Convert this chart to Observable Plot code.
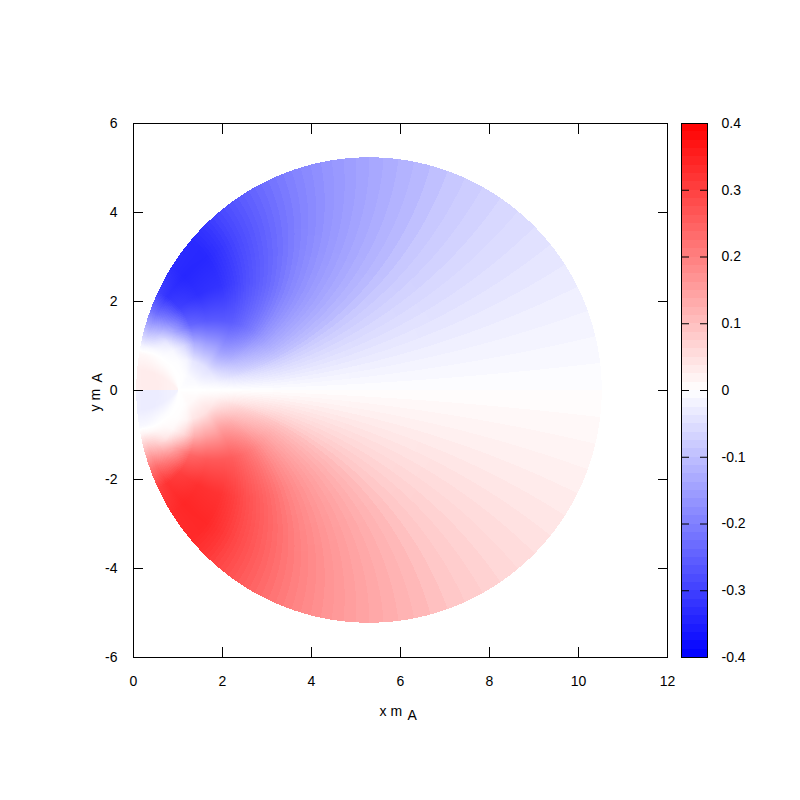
<!DOCTYPE html>
<html><head><meta charset="utf-8">
<script src="https://cdn.jsdelivr.net/npm/d3@7"></script>
<script src="https://cdn.jsdelivr.net/npm/@observablehq/plot@0.6"></script>
<style>
html,body{margin:0;padding:0;background:#fff}
#wrap{position:relative;width:800px;height:800px}
#wrap svg{position:absolute;top:0;background:transparent}
</style></head><body><div id="wrap"></div>
<script>
const xTicks=[0,2,4,6,8,10,12];
const yTicks=[-6,-4,-2,0,2,4,6];
const barTicks=[-0.4,-0.3,-0.2,-0.1,0,0.1,0.2,0.3,0.4];
const disc={cx:5.28,cy:0,r:5.23};
const focus=1.0;
const rayStep=0.67;
// rim angle of each ray (degrees) and position along it (0 at the focus, 1 at the rim)
const rayAngles=[0,7,13,20,26,32,39,45,51,56,61,66,71,76,80,90,100,110,120,130,135,140,148,155,160,165,169,171,175,178,180];
const rayStops=[0,.2,.35,.5,.65,.8,.92,1];
// values of the upper half; the lower half shows the same with opposite sign
const field=[
[0,0,0,-.001,-.002,-.002,-.002,-.002],
[0,0,-.001,-.004,-.007,-.008,-.008,-.008],
[0,0,-.002,-.008,-.012,-.014,-.014,-.014],
[0,-.001,-.003,-.011,-.017,-.019,-.02,-.02],
[0,-.001,-.005,-.015,-.023,-.026,-.027,-.027],
[0,-.001,-.006,-.019,-.03,-.034,-.035,-.035],
[0,-.001,-.007,-.023,-.036,-.041,-.042,-.042],
[0,-.002,-.009,-.029,-.044,-.05,-.052,-.052],
[0,-.002,-.01,-.032,-.049,-.056,-.058,-.058],
[0,-.002,-.011,-.036,-.056,-.064,-.066,-.066],
[0,-.002,-.013,-.041,-.064,-.073,-.075,-.075],
[0,-.002,-.014,-.045,-.07,-.08,-.082,-.082],
[0,-.003,-.016,-.052,-.08,-.091,-.094,-.094],
[0,-.003,-.019,-.06,-.094,-.107,-.11,-.11],
[0,-.004,-.02,-.065,-.1,-.114,-.118,-.118],
[0,-.004,-.024,-.078,-.12,-.137,-.141,-.141],
[0,-.005,-.028,-.091,-.14,-.16,-.165,-.165],
[0,-.006,-.033,-.108,-.167,-.19,-.196,-.196],
[0,-.007,-.039,-.13,-.205,-.235,-.24,-.24],
[0,-.008,-.045,-.15,-.24,-.275,-.285,-.285],
[0,-.009,-.045,-.155,-.255,-.3,-.315,-.315],
[0,-.009,-.045,-.145,-.26,-.32,-.338,-.335],
[0,-.01,-.045,-.145,-.26,-.325,-.34,-.33],
[0,-.009,-.038,-.125,-.24,-.3,-.32,-.3],
[0,-.004,-.015,-.06,-.15,-.2,-.23,-.22],
[0,-.001,-.003,-.012,-.04,-.09,-.11,-.1],
[0,0,0,-.002,-.005,-.012,-.018,-.015],
[.005,.005,.005,.005,.008,.01,.01,.01],
[.02,.024,.027,.03,.03,.03,.028,.027],
[.02,.025,.03,.03,.03,.03,.027,.025],
[.02,.025,.03,.03,.03,.028,.025,.022]
];
const colorDomain=[-0.4,0,0.4];
const colorRange=["#0000ff","#ffffff","#ff0000"];
const barLevels=64;

const a=(focus-disc.cx)/disc.r;            // focus in unit-disc coordinates
const squeeze=(1+a)/(1-a);                 // ray angle at focus vs angle on the rim
function bracket(arr,v){
  let i=d3.bisectRight(arr,v)-1;
  i=Math.max(0,Math.min(arr.length-2,i));
  return [i,(v-arr[i])/(arr[i+1]-arr[i])];
}
function sample(x,y){
  const zx=(x-disc.cx)/disc.r, zy=Math.abs(y-disc.cy)/disc.r;
  if(zx*zx+zy*zy>1) return NaN;
  const nx=zx-a, ny=zy, dx=1-a*zx, dy=-a*zy;
  const dd=dx*dx+dy*dy;
  const wx=(nx*dx+ny*dy)/dd, wy=(ny*dx-nx*dy)/dd;
  const rho=Math.min(1,Math.hypot(wx,wy));
  let phi=Math.atan2(wy,wx)*180/Math.PI;
  phi=(Math.floor(phi/rayStep)+.5)*rayStep;
  phi=Math.min(phi,179.9);
  const t=2*Math.atan(Math.tan(phi*Math.PI/360)/squeeze)*180/Math.PI;
  const [i,f]=bracket(rayAngles,t), [j,g]=bracket(rayStops,rho);
  const v=(field[i][j]*(1-g)+field[i][j+1]*g)*(1-f)+(field[i+1][j]*(1-g)+field[i+1][j+1]*g)*f;
  return y<disc.cy?-v:v;
}
const font={fontFamily:"'Liberation Sans',Arial,sans-serif",fontSize:14};
const fmt=d=>String(d);
const main=Plot.plot({
  width:800,height:800,marginLeft:133,marginRight:133,marginTop:123,marginBottom:143,
  style:{...font,background:"transparent",color:"#000"},
  x:{domain:[0,12],axis:null},y:{domain:[-6,6],axis:null},
  color:{type:"linear",domain:colorDomain,range:colorRange,interpolate:"rgb"},
  marks:[
    Plot.raster({x1:0,x2:12,y1:-6,y2:6,width:534,height:534,imageRendering:"pixelated",fill:sample}),
    Plot.frame({stroke:"#000"}),
    Plot.axisX(xTicks,{anchor:"bottom",tickSize:-10,tickPadding:29,tickFormat:fmt,label:null,fontSize:14}),
    Plot.axisX(xTicks,{anchor:"top",tickSize:-10,tickFormat:()=>"",label:null}),
    Plot.axisY(yTicks,{anchor:"left",tickSize:-10,tickPadding:26,tickFormat:fmt,label:null,fontSize:14}),
    Plot.axisY(yTicks,{anchor:"right",tickSize:-10,tickFormat:()=>"",label:null}),
    Plot.text(["x m"],{frameAnchor:"bottom-left",dx:246,dy:58,textAnchor:"start",lineAnchor:"bottom",fontSize:14}),
    Plot.text(["A"],{frameAnchor:"bottom-left",dx:274,dy:62,textAnchor:"start",lineAnchor:"bottom",fontSize:14}),
    Plot.text(["y m"],{frameAnchor:"top-left",dx:-34,dy:288,rotate:-90,textAnchor:"start",lineAnchor:"bottom",fontSize:14}),
    Plot.text(["A"],{frameAnchor:"top-left",dx:-32,dy:259,rotate:-90,textAnchor:"start",lineAnchor:"bottom",fontSize:14})
  ]
});
main.style.left="0";
const step=(colorDomain[2]-colorDomain[0])/barLevels;
const bands=d3.range(barLevels).map(i=>colorDomain[0]+i*step);
const bar=Plot.plot({
  width:150,height:800,marginLeft:31,marginRight:93,marginTop:123,marginBottom:143,
  style:{...font,background:"transparent",color:"#000"},
  x:{domain:[0,1],axis:null},y:{domain:[-.4,.4],axis:null},
  color:{type:"linear",domain:colorDomain,range:colorRange,interpolate:"rgb"},
  marks:[
    Plot.rect(bands,{x1:0,x2:1,y1:d=>d,y2:d=>d+step,fill:d=>d+step/2,shapeRendering:"crispEdges"}),
    Plot.frame({stroke:"#000"}),
    Plot.axisY(barTicks,{anchor:"right",tickSize:-8,tickPadding:22,tickFormat:fmt,label:null,textAnchor:"start",fontSize:14}),
    Plot.axisY(barTicks,{anchor:"left",tickSize:-8,tickFormat:()=>"",label:null})
  ]
});
bar.style.left="650px";
const wrap=document.getElementById("wrap");
wrap.append(main,bar);
</script></body></html>
